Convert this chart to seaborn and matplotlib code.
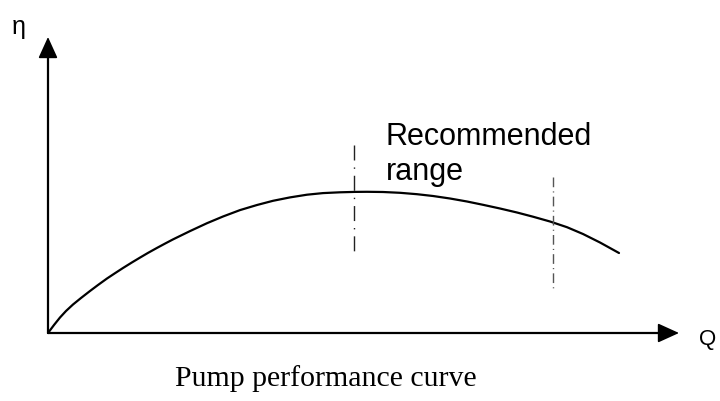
import numpy as np
import pandas as pd
import seaborn as sns
import matplotlib.pyplot as plt

# efficiency curve (schematic units)
flow = [0, 6, 12, 18, 25, 33, 42, 50, 59, 67, 75, 84, 92, 100, 109, 117, 125, 142, 159,
        175, 192, 209, 225, 242, 259, 275, 292, 307, 319, 335, 352, 369, 385, 402, 419,
        435, 452, 469, 485, 502, 519, 535, 552, 571]
efficiency = [0, 8, 15.5, 22, 28.5, 35, 42, 48, 54.5, 59.8, 65, 70.6, 75.4, 80.1, 85.1,
              89.4, 93.6, 101.9, 109.8, 116.5, 122.9, 128, 132.2, 135.6, 138.3, 139.9,
              140.7, 141.1, 141.2, 141, 140.2, 138.8, 137, 134.5, 131.5, 128.2, 124.5,
              120.5, 116.3, 111.5, 105.8, 99, 90.5, 80]

# recommended range markers
range_q = [306, 505]
range_top = [188, 156]
range_bottom = [78, 41]
range_colors = ['#222222', '#555555']
range_dashes = [(10.8, 5, 1, 5), (7, 3, 0.8, 3)]

axis_q_max = 631
axis_eta_max = 296

sns.set_theme(style="white")
plt.rcParams['font.family'] = ['Liberation Sans', 'DejaVu Sans']
plt.rcParams['text.color'] = 'black'

fig = plt.figure(figsize=(7.2, 4.01), dpi=100)
ax = fig.add_axes([0, 0, 1, 1])
ax.set_xlim(-48, 672)
ax.set_ylim(-68, 333)
ax.axis('off')

df = pd.DataFrame({'Q': flow, 'eta': efficiency})
sns.lineplot(data=df, x='Q', y='eta', ax=ax, color='black', linewidth=1.6, sort=False)

for q, top, bot, c, d in zip(range_q, range_top, range_bottom, range_colors, range_dashes):
    ax.plot([q, q], [top, bot], color=c, linewidth=1.0, dashes=d)

# axes with arrow heads
ax.plot([0, axis_q_max - 14], [0, 0], color='black', linewidth=1.6)
ax.plot([0, 0], [0, axis_eta_max - 14], color='black', linewidth=1.6)
ax.annotate('', xy=(axis_q_max, 0), xytext=(axis_q_max - 16, 0),
            arrowprops=dict(arrowstyle='-|>,head_length=1.1,head_width=0.5', color='black', lw=1.2, shrinkA=0, shrinkB=0))
ax.annotate('', xy=(0, axis_eta_max), xytext=(0, axis_eta_max - 16),
            arrowprops=dict(arrowstyle='-|>,head_length=1.1,head_width=0.5', color='black', lw=1.2, shrinkA=0, shrinkB=0))

ax.text(-36, 318, 'η', fontsize=18, ha='left', va='top')
ax.text(651, -7, 'Q', fontsize=16, ha='left', va='center')
ax.text(338, 188, 'Recommended', fontsize=22, ha='left', va='baseline')
ax.text(338, 153, 'range', fontsize=22, ha='left', va='baseline')
ax.text(278, -53, 'Pump performance curve', fontsize=21.5, ha='center', va='baseline',
        family=['Liberation Serif', 'DejaVu Serif'])

fig.savefig('out.png', dpi=100)
